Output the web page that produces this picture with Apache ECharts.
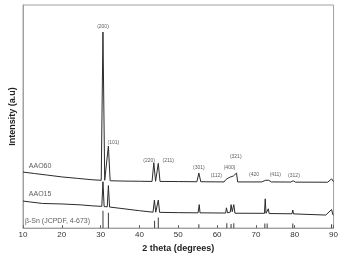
<!DOCTYPE html>
<html>
<head>
<meta charset="utf-8">
<script src="https://cdn.jsdelivr.net/npm/echarts@6/dist/echarts.min.js"></script>
<style>
  html, body { margin: 0; padding: 0; background: #fff; }
  #main { width: 341px; height: 258px; }
</style>
</head>
<body>
<div id="main"></div>
<script>
// XRD patterns, 2 theta vs intensity (arbitrary units, curves offset)
var xTicks = [10, 20, 30, 40, 50, 60, 70, 80, 90];

var aao60 = [
  [10, 58], [13, 56.5], [16, 55], [20, 53], [24, 51.5], [28, 50], [30.15, 49.5],
  [30.6, 203], [31.05, 49.5], [31.55, 49.3], [32.0, 85], [32.45, 49],
  [36, 48.7], [40, 48.5], [43.25, 48.3], [43.7, 67.5], [44.15, 48.5], [44.4, 48.5],
  [44.85, 67], [45.3, 48.3], [50, 48.2], [54.8, 48], [55.3, 57], [55.8, 48],
  [61.8, 47.8], [62.2, 50], [62.5, 48.5], [62.9, 52], [63.2, 50], [63.5, 53],
  [63.8, 51], [64.2, 54], [64.4, 52], [64.7, 56], [65.0, 57], [65.3, 47.8],
  [71.5, 47.8], [72.5, 49.5], [73.0, 48], [73.3, 49.5], [74, 47.8],
  [79, 47.7], [79.6, 49], [80.2, 47.6], [88.5, 47.5], [89.5, 51], [90, 48]
];

var aao15 = [
  [10, 28], [12, 27], [15, 25.5], [20, 25], [25, 24], [28, 23], [30.3, 22.5],
  [30.6, 48], [30.9, 22.3], [31.7, 22], [32.0, 44], [32.3, 21.8],
  [35, 20.5], [40, 18], [43.5, 16.5], [43.85, 29], [44.2, 16.5], [44.5, 16.5],
  [44.85, 29], [45.2, 16.3], [50, 16], [55.1, 15.8], [55.4, 24.3], [55.6, 15.8],
  [62.2, 15.6], [62.4, 21], [62.7, 15.8], [63.4, 16.5], [63.6, 24.3], [63.9, 17],
  [64.05, 17], [64.3, 24.3], [64.6, 15.4], [72.2, 15.3], [72.4, 30.3], [72.6, 15.3],
  [73.0, 15.2], [73.2, 20], [73.4, 15.1], [79.3, 14.8], [79.5, 18.7], [79.7, 14.7],
  [88, 13.5], [89.5, 19.3], [89.8, 14], [90, 13.5]
];

// beta-Sn reference pattern (JCPDF 4-673)
var refSticks = [
  [30.6, 18], [32.0, 16], [43.9, 7.7], [44.85, 11], [55.3, 4], [62.5, 5],
  [63.6, 4.3], [64.3, 5], [72.3, 4.7], [72.9, 4.7], [79.5, 4.7], [89.5, 4]
];

var hklLabels = ['(200)', '(101)', '(220)', '(211)', '(301)', '(112)', '(400)', '(321)', '(420', '(411)', '(312)'];
var hklTheta = [30.6, 33.3, 42.5, 47.4, 55.3, 59.8, 63.2, 64.8, 69.5, 75.0, 79.8];
var hklY = [209, 89, 70, 70, 63, 54, 63, 74, 55, 55, 54];

var sampleNames = ['AAO60', 'AAO15', 'β-Sn (JCPDF, 4-673)'];
var sampleTheta = [11.5, 11.5, 10.5];
var sampleY = [64, 35, 7];

var chart = echarts.init(document.getElementById('main'));

var hklData = [];
for (var i = 0; i < hklLabels.length; i++) {
  hklData.push([hklTheta[i], hklY[i], hklLabels[i]]);
}
var nameData = [];
for (var j = 0; j < sampleNames.length; j++) {
  nameData.push([sampleTheta[j], sampleY[j], sampleNames[j]]);
}

var option = {
  backgroundColor: '#ffffff',
  animation: false,
  grid: {
    left: 17, right: 5, top: 5, bottom: 22,
    show: true, borderColor: '#a0a0a0', borderWidth: 1
  },
  xAxis: {
    type: 'value',
    min: 10, max: 90, interval: 10,
    name: '2 theta (degrees)',
    nameLocation: 'middle',
    nameGap: 12,
    nameTextStyle: { fontFamily: 'Liberation Sans', fontWeight: 'bold', fontSize: 9, color: '#222' },
    axisLine: { lineStyle: { color: '#a0a0a0', width: 1 } },
    axisTick: { inside: true, length: 3, lineStyle: { color: '#666' } },
    axisLabel: { fontFamily: 'Liberation Sans', fontSize: 8, color: '#333', margin: 3 },
    splitLine: { show: false }
  },
  yAxis: {
    type: 'value',
    min: 0, max: 231,
    name: 'Intensity (a.u)',
    nameLocation: 'middle',
    nameGap: 6,
    nameTextStyle: { fontFamily: 'Liberation Sans', fontWeight: 'bold', fontSize: 9, color: '#222' },
    axisLine: { show: true, lineStyle: { color: '#a0a0a0', width: 1 } },
    axisTick: { show: false },
    axisLabel: { show: false },
    splitLine: { show: false }
  },
  series: [
    {
      name: 'AAO60', type: 'line', data: aao60, symbol: 'none',
      lineStyle: { color: '#2b2b2b', width: 1 }
    },
    {
      name: 'AAO15', type: 'line', data: aao15, symbol: 'none',
      lineStyle: { color: '#2b2b2b', width: 1 }
    },
    {
      name: 'beta-Sn', type: 'bar', data: refSticks, barWidth: 1,
      itemStyle: { color: '#3a3a3a' }
    },
    {
      type: 'scatter', data: hklData, symbolSize: 0, silent: true,
      label: {
        show: true, position: 'inside',
        formatter: function (p) { return p.data[2]; },
        fontFamily: 'Liberation Sans', fontSize: 5, color: '#333'
      }
    },
    {
      type: 'scatter', data: nameData, symbolSize: 0, silent: true,
      label: {
        show: true, position: 'right', distance: 0,
        formatter: function (p) { return p.data[2]; },
        fontFamily: 'Liberation Sans', fontSize: 7, color: '#333'
      }
    }
  ]
};

chart.setOption(option);
</script>
</body>
</html>
